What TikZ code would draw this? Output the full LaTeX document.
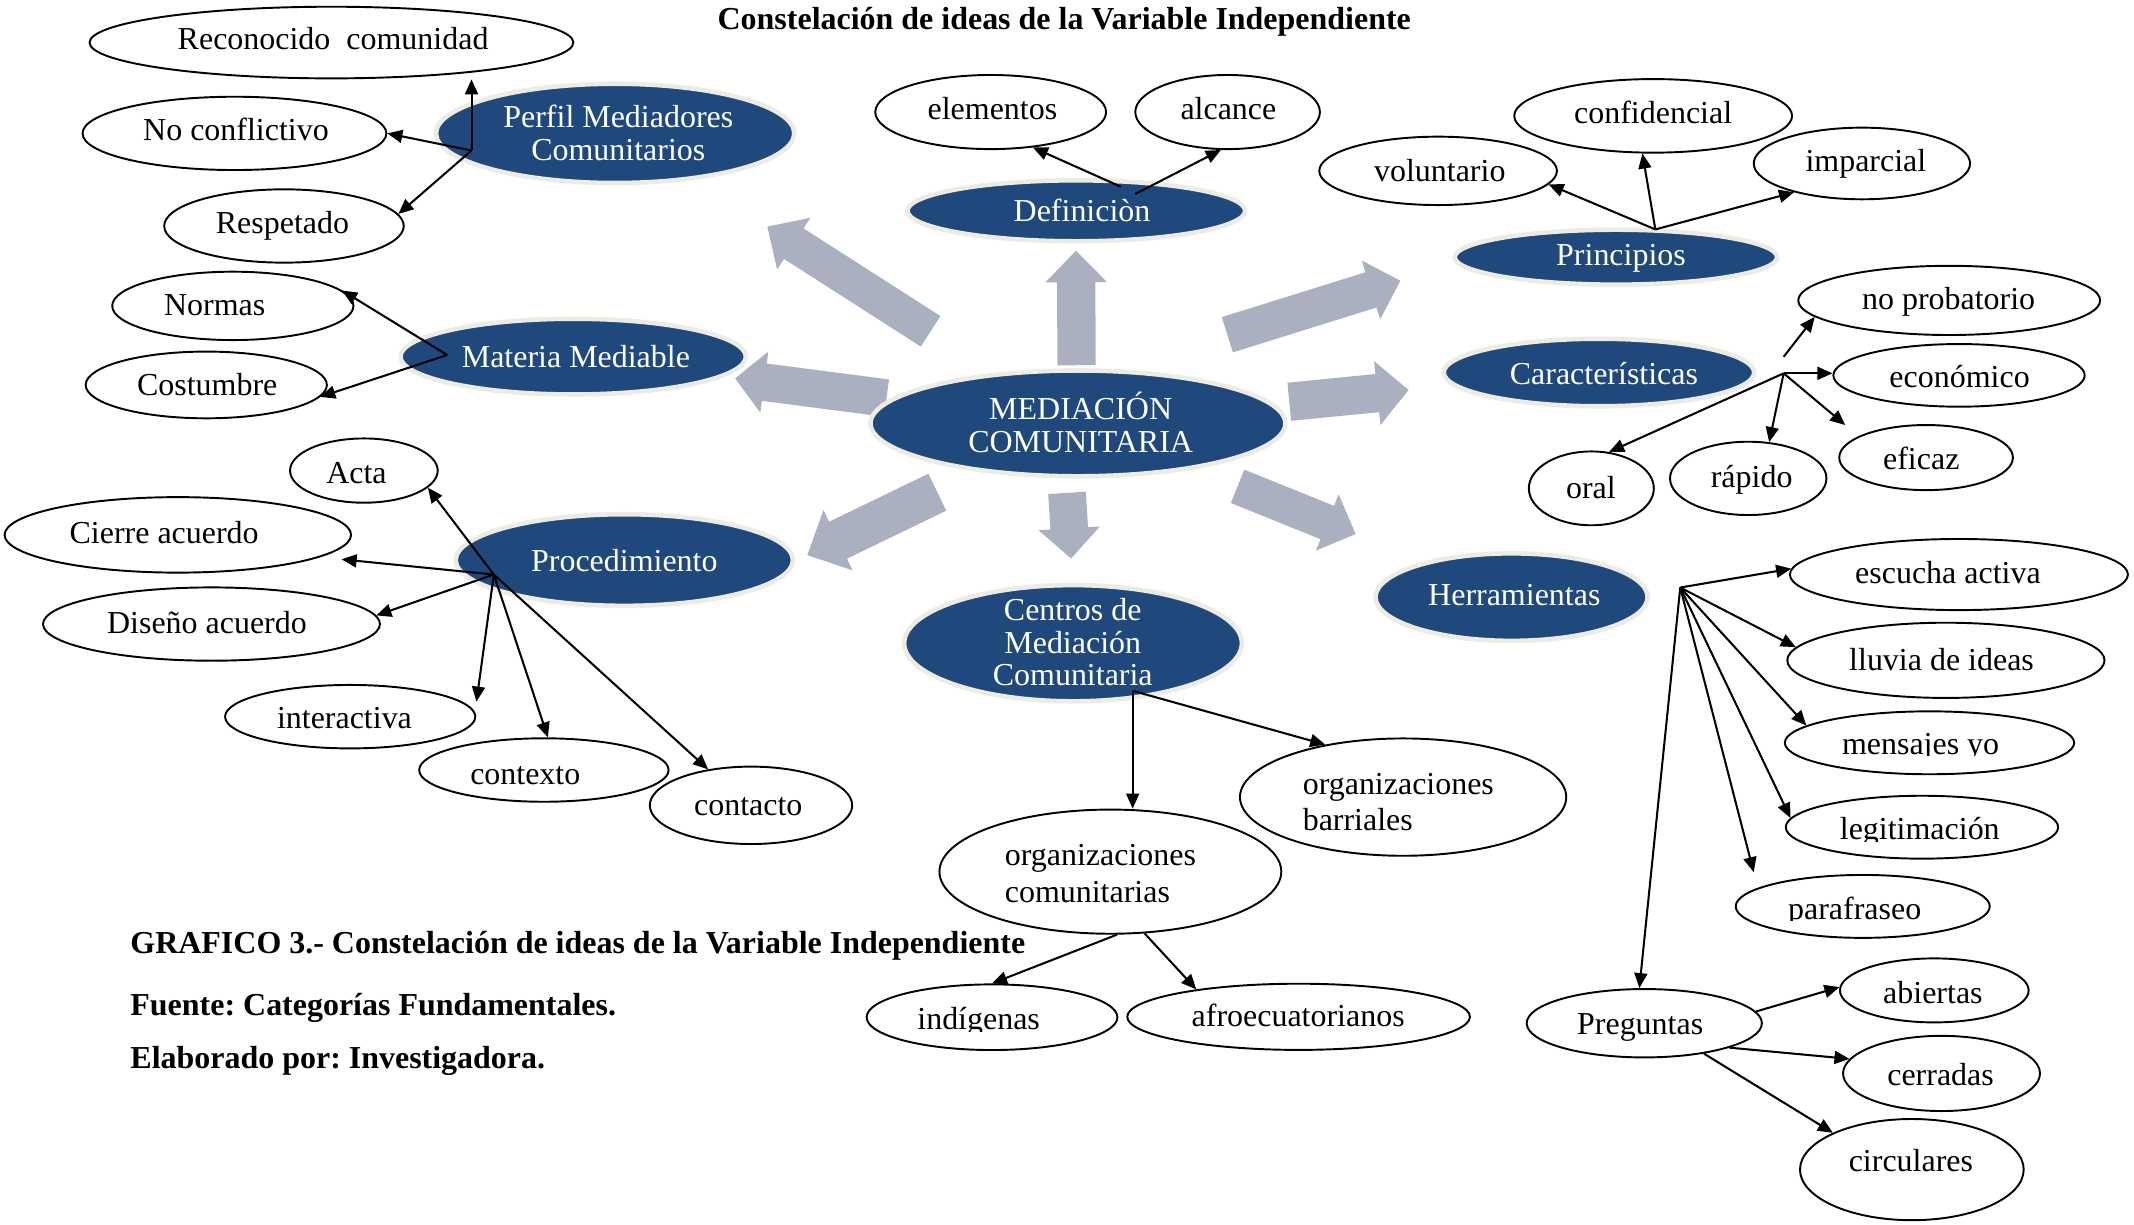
\documentclass[tikz,border=0pt]{standalone}
\usepackage{fontspec}
\setmainfont{Liberation Serif}
\usetikzlibrary{shapes.geometric,arrows.meta,calc}
\definecolor{nblue}{HTML}{1F497D}
\definecolor{nhalo}{HTML}{EEECE1}
\definecolor{agray}{HTML}{AAB0BF}
\frenchspacing
% block arrow: tail x,y ; tip x,y ; shaft width ; head width ; head length
\newcommand{\blockarr}[7]{%
  \pgfmathsetmacro{\bdx}{#3-(#1)}%
  \pgfmathsetmacro{\bdy}{#4-(#2)}%
  \pgfmathsetmacro{\blen}{veclen(\bdx,\bdy)}%
  \pgfmathsetmacro{\bang}{atan2(\bdy,\bdx)}%
  \fill[agray,shift={(#1,#2)},rotate=-\bang] (0,-#5/2) -- ({\blen-#7},-#5/2) -- ({\blen-#7},-#6/2) -- (\blen,0) -- ({\blen-#7},#6/2) -- ({\blen-#7},#5/2) -- (0,#5/2) -- cycle;}
% oval: style, name, cx, cy, rx, ry, tx, ty, text
\newcommand{\ov}[9]{%
  \node[#1, minimum width=#5*0.04cm, minimum height=#6*0.04cm] (#2) at (#3,#4) {};
  \node[#1t] (#2t) at (#7,#8) {#9};}
% clipped white oval: name, cx, cy, rx, ry, tx, ty, clip-bottom, text
\newcommand{\ovc}[9]{%
  \node[wov, minimum width=#4*0.04cm, minimum height=#5*0.04cm] (#1) at (#2,#3) {};
  \begin{scope}\clip (#6-120,#7-40) rectangle (#6+120,#8);
  \node[wovt] (#1t) at (#6,#7) {#9};\end{scope}}
\begin{document}
\begin{tikzpicture}[x=0.02cm,y=-0.02cm,
  font=\fontsize{13.3}{13.8}\selectfont,
  wov/.style={ellipse, draw=black, line width=0.8pt, fill=white, inner sep=0pt},
  wovt/.style={inner sep=0pt, text height=0.7em, text depth=0.2em},
  bov/.style={ellipse, draw=nhalo, line width=1.9pt, fill=nblue, inner sep=0pt},
  bovt/.style={inner sep=0pt, text=white, align=center, font=\fontsize{13.3}{13.6}\selectfont},
  arr/.style={-{Triangle[length=0.22cm,width=0.19cm]}, line width=0.85pt},
  capt/.style={anchor=base west, inner sep=0pt, font=\fontsize{13.3}{13.8}\selectfont\bfseries}]
\useasboundingbox (0,0) rectangle (1560,894.8);

% block arrows from the centre
\blockarr{680.3}{242.2}{560.9}{165.7}{26.5}{45}{23}
\blockarr{787}{267}{786.6}{183.3}{28}{45}{23}
\blockarr{897.2}{244.7}{1023.7}{205.2}{27}{45}{22.5}
\blockarr{942.5}{293.7}{1029.7}{285.1}{28}{47}{23}
\blockarr{648.1}{291}{537.4}{276.6}{27.5}{45}{21.5}
\blockarr{685.2}{359.8}{590.1}{405.8}{30}{49}{25}
\blockarr{780}{360.3}{783}{408.2}{27.5}{45}{22}
\blockarr{904.7}{355.5}{991.1}{390.4}{26.3}{44.4}{22.4}

% title
\node[anchor=base, inner sep=0pt, font=\fontsize{13.3}{13.8}\selectfont\bfseries] (title) at (778,21.5) {Constelación de ideas de la Variable Independiente};

% Perfil group
\ov{wov}{reco}{242.3}{31.1}{176.9}{26.2}{243.5}{32}{Reconocido\ \ comunidad}
\ov{wov}{noconf}{171.4}{97.5}{111.1}{26.8}{172.5}{98}{No conflictivo}
\ov{wov}{resp}{207.6}{165.2}{87.6}{26.8}{206.5}{166}{Respetado}
\ov{bov}{perfil}{449.7}{97.5}{131}{36.3}{452}{97}{Perfil Mediadores\\Comunitarios}
% Materia group
\ov{wov}{normas}{170.2}{223.6}{88.2}{25}{157}{226}{Normas}
\ov{wov}{cost}{150.8}{281.4}{88.2}{24.4}{151.5}{285}{Costumbre}
\ov{bov}{materia}{419}{260.7}{126.3}{27.7}{421}{261}{Materia Mediable}
% Definicion group
\ov{wov}{elem}{724.2}{81.9}{84.4}{27.1}{725.5}{83}{elementos}
\ov{wov}{alc}{897.4}{81.9}{67.5}{27.1}{898}{83}{alcance}
\ov{bov}{def}{786.8}{154.1}{123.5}{22.3}{791}{154}{Definiciòn}
% Principios group
\ov{wov}{vol}{1051.3}{124.9}{86.9}{25}{1052.5}{128}{voluntario}
\ov{wov}{conf}{1208.5}{84.7}{101.6}{26.9}{1208.5}{86}{confidencial}
\ov{wov}{imp}{1361.1}{119.5}{79.1}{26.2}{1364}{121}{imparcial}
\ov{bov}{princ}{1181.3}{188}{117.9}{20.1}{1185}{189}{Principios}
% centre
\ov{bov}{med}{788}{309.5}{151.7}{38.7}{790}{309}{MEDIACIÓN\\COMUNITARIA}
% Caracteristicas group
\ov{wov}{noprob}{1424.9}{219.6}{110.4}{25.3}{1424.5}{222}{no probatorio}
\ov{wov}{econ}{1432.1}{274.4}{91.9}{22.9}{1432.5}{279}{económico}
\ov{wov}{efic}{1408}{334.5}{63.5}{23.8}{1404.5}{339}{eficaz}
\ov{wov}{rap}{1278}{349.7}{57.2}{26.8}{1280.5}{352}{rápido}
\ov{wov}{oral}{1163.3}{357}{45.7}{27}{1163}{360}{oral}
\ov{bov}{carac}{1168.9}{272.3}{113.5}{24.7}{1172.5}{273}{Características}
% Herramientas group
\ov{bov}{herr}{1105}{436.5}{99.5}{32}{1107}{435}{Herramientas}
\ov{wov}{esc}{1432}{420}{123.6}{26}{1424}{422}{escucha activa}
\ov{wov}{lluv}{1422.5}{482.7}{116}{27.5}{1419.3}{486}{lluvia de ideas}
\ovc{mens}{1410.5}{543}{105.8}{23}{1404}{547}{552.5}{mensajes yo}
\ovc{legit}{1405}{604.7}{99.6}{23}{1403.4}{609}{615}{legitimación}
\ovc{paraf}{1361.7}{662.6}{92.9}{23}{1355.8}{668}{673}{parafraseo}
\ov{wov}{preg}{1202}{748}{86}{25}{1199}{752}{Preguntas}
\ov{wov}{abi}{1414}{724}{69}{23.4}{1413}{729}{abiertas}
\ov{wov}{cerr}{1419.3}{784.7}{72}{27.5}{1418.6}{789}{cerradas}
\ov{wov}{circ}{1397.6}{855}{81.8}{37}{1396.9}{852}{circulares}
% Procedimiento group
\ov{wov}{acta}{266}{344}{54}{23.5}{260.6}{349}{Acta}
\ov{wov}{cierre}{130}{391}{126.7}{27.6}{120}{393}{Cierre acuerdo}
\ov{wov}{dis}{154.6}{456.2}{123.2}{26.8}{151.3}{459}{Diseño acuerdo}
\ov{wov}{inter}{256}{523.9}{91.5}{23.2}{251.8}{528}{interactiva}
\ov{wov}{ctx}{397.6}{562.9}{91.2}{23.2}{384}{569}{contexto}
\ov{wov}{cto}{549}{588.7}{74}{28.3}{547}{592}{contacto}
\ov{bov}{proc}{456.4}{409.4}{123.3}{33.5}{456.4}{410}{Procedimiento}
% Centros group
\ov{bov}{cent}{784.4}{470.2}{123.5}{42.5}{784.2}{469.5}{Centros de\\Mediación\\Comunitaria}
\node[wov, minimum width=119.3*0.04cm, minimum height=42.9*0.04cm] (orgb) at (1025.7,582.7) {};
\node[anchor=west, inner sep=0pt, align=left, font=\fontsize{13.3}{15}\selectfont] (orgbt) at (952,586) {organizaciones\\barriales};
\node[wov, minimum width=125*0.04cm, minimum height=45.4*0.04cm] (orgc) at (811.7,637.2) {};
\node[anchor=west, inner sep=0pt, align=left, font=\fontsize{13.3}{15}\selectfont] (orgct) at (734.2,638.6) {organizaciones\\comunitarias};
\ovc{ind}{725.2}{743.6}{91.7}{24}{715.4}{748}{754}{indígenas}
\ov{wov}{afro}{949.3}{743.3}{125.3}{24.2}{949}{746}{afroecuatorianos}

% hubs and free tips
\coordinate (perfH) at (344.7,110);
\coordinate (matH) at (326.9,259.5);
\coordinate (defH1) at (819.3,136.5);
\coordinate (defH2) at (829.9,141.8);
\coordinate (princH) at (1210.1,167.7);
\coordinate (carH) at (1303.9,272.9);
\coordinate (carH2) at (1303.9,260.8);
\coordinate (eficTip) at (1348.9,310.7);
\coordinate (herrH) at (1228.3,429.5);
\coordinate (parafTip) at (1282,637.6);
\coordinate (procH) at (361,420);
\coordinate (cierreTip) at (249.7,408.9);
\coordinate (interTip) at (348.3,512.9);
\coordinate (centH) at (828,505);

% connectors
\draw[arr] (perfH) -- (perfH |- reco.south);
\draw[arr] (perfH) -- (noconf.east);
\draw[arr] (perfH) -- (resp.6);
\draw[arr] (matH) -- (normas.8);
\draw[arr] (matH) -- (cost.354);
\draw[arr] (defH1) -- (elem.320);
\draw[arr] (defH2) -- (alc.260);
\draw[arr] (princH) -- (vol.353);
\draw[arr] (princH) -- (conf.254);
\draw[arr] (princH) -- (imp.203);
\draw[arr] (carH2) -- (noprob.187);
\draw[arr] (carH) -- (carH -| econ.west);
\draw[arr] (carH) -- (eficTip);
\draw[arr] (carH) -- (rap.60);
\draw[arr] (carH) -- (oral.64);
\draw[arr] (herrH) -- (esc.178);
\draw[arr] (herrH) -- (lluv.175);
\draw[arr] (herrH) -- (mens.172);
\draw[arr] (herrH) -- (legit.176);
\draw[arr] (herrH) -- (parafTip);
\draw[arr] (herrH) -- (preg.98);
\draw[arr] (preg.6) -- (abi.178);
\draw[arr] (preg.344) -- (cerr.171);
\draw[arr] (preg.333) -- (circ.155);
\draw[arr] (procH) -- (acta.345);
\draw[arr] (procH) -- (cierreTip);
\draw[arr] (procH) -- (dis.3);
\draw[arr] (procH) -- (interTip);
\draw[arr] (procH) -- (ctx.83);
\draw[arr] (procH) -- (cto.140);
\draw[arr] (centH) -- (centH |- orgc.north);
\draw[arr] (centH) -- (orgb.146);
\draw[arr] (orgc.276) -- (ind.north);
\draw[arr] (orgc.299) -- (afro.165);

% caption
\node[capt] (cap1) at (95,697) {GRAFICO 3.- Constelación de ideas de la Variable Independiente};
\node[capt] (cap2) at (95,742) {Fuente: Categorías Fundamentales.};
\node[capt] (cap3) at (95,781) {Elaborado por: Investigadora.};
\end{tikzpicture}
\end{document}
